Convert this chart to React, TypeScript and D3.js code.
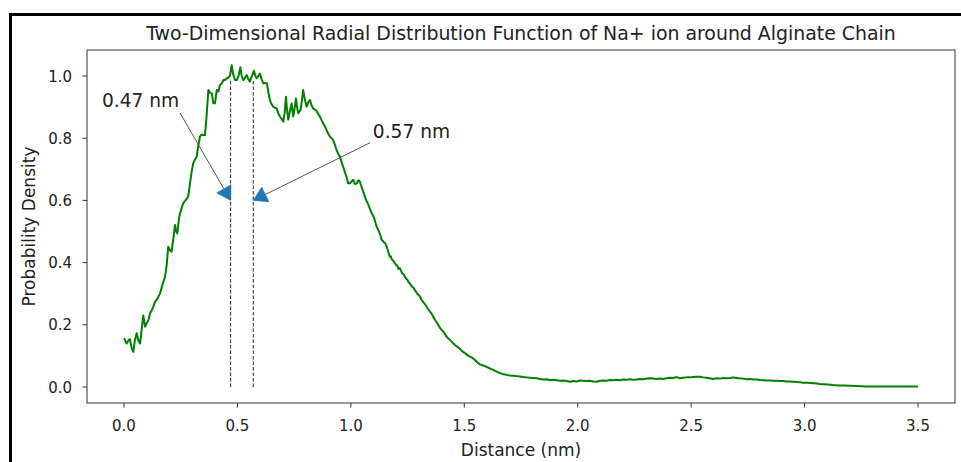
import React from "react";
import * as d3 from "d3";

const distance = [
  0.000, 0.008, 0.012, 0.020, 0.026, 0.034, 0.041, 0.048, 0.056, 0.063, 0.071, 0.078, 0.085, 0.093, 0.100, 0.108, 0.115, 0.125, 0.137, 0.148,
  0.159, 0.170, 0.181, 0.188, 0.195, 0.203, 0.210, 0.218, 0.225, 0.230, 0.235, 0.242, 0.247, 0.254, 0.261, 0.268, 0.276, 0.283, 0.290, 0.298,
  0.305, 0.312, 0.320, 0.327, 0.335, 0.342, 0.349, 0.357, 0.364, 0.372, 0.380, 0.387, 0.394, 0.401, 0.409, 0.416, 0.423, 0.431, 0.438, 0.445,
  0.452, 0.460, 0.467, 0.475, 0.480, 0.485, 0.489, 0.497, 0.505, 0.513, 0.519, 0.526, 0.534, 0.541, 0.548, 0.555, 0.563, 0.573, 0.579, 0.585,
  0.592, 0.599, 0.607, 0.614, 0.622, 0.630, 0.636, 0.643, 0.650, 0.658, 0.665, 0.673, 0.680, 0.688, 0.695, 0.702, 0.708, 0.714, 0.719, 0.724,
  0.731, 0.739, 0.746, 0.752, 0.758, 0.763, 0.768, 0.773, 0.778, 0.784, 0.790, 0.797, 0.805, 0.812, 0.820, 0.827, 0.834, 0.842, 0.849, 0.856,
  0.864, 0.871, 0.878, 0.886, 0.893, 0.900, 0.908, 0.915, 0.922, 0.930, 0.937, 0.944, 0.952, 0.959, 0.966, 0.974, 0.981, 0.988, 0.996, 1.004,
  1.011, 1.018, 1.026, 1.033, 1.040, 1.047, 1.055, 1.062, 1.068, 1.075, 1.083, 1.092, 1.097, 1.102, 1.108, 1.114, 1.119, 1.124, 1.130, 1.136,
  1.141, 1.146, 1.152, 1.158, 1.165, 1.172, 1.176, 1.181, 1.188, 1.194, 1.200, 1.205, 1.210, 1.216, 1.222, 1.227, 1.233, 1.238, 1.244, 1.249,
  1.255, 1.260, 1.266, 1.271, 1.277, 1.282, 1.288, 1.293, 1.299, 1.305, 1.312, 1.320, 1.327, 1.334, 1.341, 1.349, 1.356, 1.363, 1.371, 1.378,
  1.385, 1.393, 1.400, 1.407, 1.415, 1.422, 1.429, 1.436, 1.444, 1.451, 1.458, 1.466, 1.473, 1.481, 1.488, 1.495, 1.503, 1.510, 1.517, 1.525,
  1.532, 1.539, 1.547, 1.554, 1.561, 1.569, 1.576, 1.583, 1.591, 1.598, 1.606, 1.613, 1.620, 1.628, 1.635, 1.642, 1.650, 1.657, 1.665, 1.672,
  1.680, 1.687, 1.700, 1.715, 1.731, 1.745, 1.760, 1.775, 1.790, 1.805, 1.819, 1.833, 1.848, 1.863, 1.878, 1.893, 1.907, 1.922, 1.937, 1.951,
  1.966, 1.980, 1.995, 2.010, 2.024, 2.039, 2.054, 2.068, 2.083, 2.098, 2.112, 2.127, 2.142, 2.156, 2.171, 2.186, 2.200, 2.215, 2.230, 2.245,
  2.260, 2.274, 2.289, 2.303, 2.318, 2.333, 2.347, 2.362, 2.377, 2.392, 2.406, 2.421, 2.436, 2.450, 2.465, 2.480, 2.494, 2.509, 2.524, 2.539,
  2.553, 2.568, 2.583, 2.597, 2.612, 2.627, 2.641, 2.656, 2.671, 2.685, 2.693, 2.710, 2.727, 2.744, 2.760, 2.775, 2.790, 2.803, 2.818, 2.833,
  2.848, 2.862, 2.877, 2.891, 2.906, 2.920, 2.935, 2.950, 2.965, 2.980, 2.995, 3.009, 3.025, 3.040, 3.055, 3.067, 3.085, 3.105, 3.126, 3.150,
  3.175, 3.200, 3.230, 3.273, 3.310, 3.346, 3.380, 3.420, 3.460, 3.500,
];

const density = [
  0.157, 0.145, 0.140, 0.150, 0.154, 0.125, 0.113, 0.150, 0.173, 0.150, 0.140, 0.185, 0.230, 0.194, 0.205, 0.215, 0.237, 0.250, 0.274, 0.285,
  0.301, 0.330, 0.355, 0.390, 0.451, 0.440, 0.435, 0.480, 0.521, 0.500, 0.494, 0.540, 0.558, 0.575, 0.590, 0.598, 0.605, 0.612, 0.650, 0.690,
  0.719, 0.730, 0.740, 0.773, 0.805, 0.812, 0.810, 0.810, 0.870, 0.955, 0.945, 0.944, 0.912, 0.912, 0.955, 0.950, 0.971, 0.976, 0.987, 0.987,
  0.992, 0.995, 1.000, 1.035, 1.010, 0.998, 0.987, 0.987, 1.000, 1.028, 1.000, 0.987, 0.995, 1.003, 0.990, 0.982, 0.998, 1.017, 1.000, 0.993,
  1.000, 1.008, 0.990, 0.976, 0.978, 0.976, 0.950, 0.923, 0.910, 0.901, 0.898, 0.896, 0.880, 0.869, 0.862, 0.853, 0.880, 0.933, 0.890, 0.860,
  0.885, 0.912, 0.870, 0.895, 0.928, 0.900, 0.880, 0.885, 0.890, 0.920, 0.955, 0.925, 0.901, 0.915, 0.923, 0.905, 0.895, 0.892, 0.888, 0.878,
  0.869, 0.858, 0.848, 0.838, 0.826, 0.815, 0.805, 0.800, 0.794, 0.778, 0.762, 0.751, 0.740, 0.724, 0.708, 0.690, 0.676, 0.655, 0.655, 0.662,
  0.666, 0.652, 0.655, 0.665, 0.660, 0.644, 0.628, 0.612, 0.600, 0.590, 0.575, 0.558, 0.552, 0.545, 0.530, 0.515, 0.508, 0.500, 0.488, 0.473,
  0.470, 0.465, 0.462, 0.451, 0.435, 0.419, 0.420, 0.410, 0.405, 0.398, 0.392, 0.390, 0.380, 0.382, 0.372, 0.365, 0.362, 0.355, 0.348, 0.345,
  0.337, 0.333, 0.326, 0.322, 0.318, 0.312, 0.305, 0.300, 0.296, 0.290, 0.280, 0.272, 0.266, 0.258, 0.250, 0.242, 0.236, 0.226, 0.216, 0.208,
  0.200, 0.190, 0.184, 0.178, 0.170, 0.162, 0.157, 0.152, 0.146, 0.141, 0.136, 0.131, 0.127, 0.122, 0.117, 0.113, 0.109, 0.105, 0.101, 0.098,
  0.095, 0.092, 0.087, 0.082, 0.077, 0.073, 0.071, 0.069, 0.067, 0.065, 0.062, 0.060, 0.057, 0.055, 0.052, 0.050, 0.047, 0.045, 0.043, 0.041,
  0.040, 0.039, 0.037, 0.036, 0.035, 0.034, 0.032, 0.031, 0.030, 0.029, 0.028, 0.026, 0.024, 0.025, 0.022, 0.023, 0.022, 0.020, 0.021, 0.019,
  0.017, 0.019, 0.018, 0.021, 0.020, 0.019, 0.020, 0.018, 0.017, 0.020, 0.021, 0.020, 0.0225, 0.022, 0.023, 0.022, 0.024, 0.023, 0.025, 0.023,
  0.024, 0.026, 0.025, 0.027, 0.028, 0.027, 0.026, 0.027, 0.026, 0.028, 0.030, 0.029, 0.032, 0.028, 0.030, 0.031, 0.031, 0.032, 0.033, 0.033,
  0.031, 0.030, 0.028, 0.026, 0.028, 0.027, 0.029, 0.028, 0.029, 0.031, 0.030, 0.028, 0.027, 0.025, 0.026, 0.024, 0.024, 0.0225, 0.022, 0.021,
  0.021, 0.020, 0.020, 0.019, 0.019, 0.018, 0.018, 0.017, 0.016, 0.015, 0.014, 0.014, 0.013, 0.012, 0.011, 0.010, 0.009, 0.008, 0.0064, 0.005,
  0.0045, 0.004, 0.003, 0.002, 0.002, 0.002, 0.002, 0.002, 0.002, 0.002,
];

const xTicks = [0.0, 0.5, 1.0, 1.5, 2.0, 2.5, 3.0, 3.5];
const yTicks = [0.0, 0.2, 0.4, 0.6, 0.8, 1.0];

const markerX = [0.47, 0.57];
const markerTop = [0.99, 0.99];

const annotLabels = ["0.47 nm", "0.57 nm"];
const annotTipX = [0.47, 0.57];
const annotTipY = [0.6, 0.6];
const annotTextX = [-0.097, 1.097];
const annotTextY = [0.90, 0.80];
const annotTailX = [0.247, 1.084];
const annotTailY = [0.881, 0.785];

const title = "Two-Dimensional Radial Distribution Function of Na+ ion around Alginate Chain";
const xLabel = "Distance (nm)";
const yLabel = "Probability Density";

const W = 961;
const H = 462;
const L = 87, R = 955, T = 50, B = 403;
const FONT = "DejaVu Sans, sans-serif";
const AX = "#333";

export default function App() {
  const x = d3.scaleLinear().domain([-0.163, 3.663]).range([L, R]);
  const y = d3.scaleLinear().domain([-0.0514, 1.0836]).range([B, T]);
  const pts: [number, number][] = distance.map((d, i) => [d, density[i]]);
  const line = d3.line<[number, number]>().x((d) => x(d[0])).y((d) => y(d[1]));
  const fmt = d3.format(".1f");

  const arrows = annotLabels.map((lab, i) => {
    const tx = x(annotTipX[i]);
    const ty = y(annotTipY[i]);
    const sx = x(annotTailX[i]);
    const sy = y(annotTailY[i]);
    const dx = tx - sx;
    const dy = ty - sy;
    const len = Math.hypot(dx, dy);
    const ux = dx / len;
    const uy = dy / len;
    const hl = 13.5;
    const hw = 8.3;
    const bx = tx - ux * hl;
    const by = ty - uy * hl;
    const p1 = [bx - uy * hw, by + ux * hw];
    const p2 = [bx + uy * hw, by - ux * hw];
    return { lab, tx, ty, sx, sy, bx, by, p1, p2, textX: x(annotTextX[i]), textY: y(annotTextY[i]) };
  });

  return (
    <svg width={W} height={H} style={{ position: "absolute", left: 0, top: 0, background: "#fff" }} fontFamily={FONT}>
      <rect x={0} y={0} width={W} height={H} fill="#fff" />
      {/* outer border (left & top) */}
      <rect x={9} y={13} width={3} height={H - 13} fill="#000" />
      <rect x={9} y={13} width={W - 9} height={3} fill="#000" />

      <text x={(L + R) / 2} y={40} textAnchor="middle" fontSize={18.9} fill="#222">{title}</text>

      {/* dashed markers */}
      {markerX.map((m, i) => (
        <line key={"m" + i} x1={x(m)} x2={x(m)} y1={y(0)} y2={y(markerTop[i])} stroke="#222" strokeWidth={1} strokeDasharray="3.5,2" />
      ))}

      <path d={line(pts) || ""} fill="none" stroke="#008000" strokeWidth={2} strokeLinejoin="round" />

      {/* annotations */}
      {arrows.map((a, i) => (
        <g key={"a" + i}>
          <line x1={a.sx} y1={a.sy} x2={a.bx} y2={a.by} stroke="#555" strokeWidth={1} />
          <polygon points={`${a.tx},${a.ty} ${a.p1[0]},${a.p1[1]} ${a.p2[0]},${a.p2[1]}`} fill="#1f77b4" stroke="#1f77b4" strokeWidth={0.5} />
          <text x={a.textX} y={a.textY} fontSize={18.6} fill="#222">{a.lab}</text>
        </g>
      ))}

      {/* frame */}
      <rect x={L} y={T} width={R - L} height={B - T} fill="none" stroke={AX} strokeWidth={1} />

      {/* x ticks */}
      {xTicks.map((t) => (
        <g key={"x" + t}>
          <line x1={x(t)} x2={x(t)} y1={B} y2={B + 4.5} stroke={AX} strokeWidth={1} />
          <text x={x(t)} y={430.5} textAnchor="middle" fontSize={15} fill="#222">{fmt(t)}</text>
        </g>
      ))}
      {/* y ticks */}
      {yTicks.map((t) => (
        <g key={"y" + t}>
          <line x1={L - 4.5} x2={L} y1={y(t)} y2={y(t)} stroke={AX} strokeWidth={1} />
          <text x={L - 15} y={y(t) + 5.5} textAnchor="end" fontSize={15} fill="#222">{fmt(t)}</text>
        </g>
      ))}

      <text x={(L + R) / 2} y={456} textAnchor="middle" fontSize={17} fill="#222">{xLabel}</text>
      <text transform={`translate(35,${(T + B) / 2}) rotate(-90)`} textAnchor="middle" fontSize={17} fill="#222">{yLabel}</text>
    </svg>
  );
}
